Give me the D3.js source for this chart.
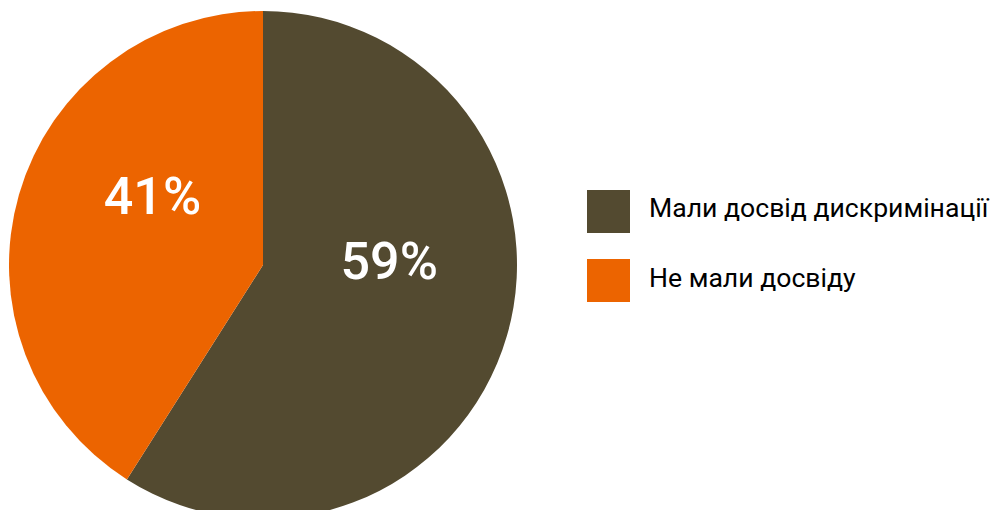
<!DOCTYPE html>
<html>
<head>
<meta charset="utf-8">
<script src="https://cdn.jsdelivr.net/npm/d3@7"></script>
<style>
  html, body { margin: 0; padding: 0; background: #fff; }
  svg { display: block; }
</style>
</head>
<body>
<svg id="chart" width="995" height="510"></svg>
<script>
// Survey shares
const categories = ["Мали досвід дискримінації", "Не мали досвіду"];
const values = [59, 41];
const colors = ["#534a30", "#ec6400"];

const W = 995, H = 510;
const cx = 263, cy = 265, R = 254;

const svg = d3.select("#chart");
const g = svg.append("g").attr("transform", `translate(${cx},${cy})`);

const pie = d3.pie().sort(null).value(d => d);
const arcs = pie(values);
const arc = d3.arc().innerRadius(0).outerRadius(R);

g.selectAll("path.slice")
  .data(arcs)
  .join("path")
  .attr("class", "slice")
  .attr("d", arc)
  .attr("fill", (d, i) => colors[i]);

// Percent labels sit about halfway out, nudged toward the wider part of each slice
const labelNudge = [-0.31, 0.28]; // radians
const labelR = R * 0.505;
g.selectAll("text.pct")
  .data(arcs)
  .join("text")
  .attr("class", "pct")
  .attr("x", (d, i) => {
    const a = (d.startAngle + d.endAngle) / 2 + labelNudge[i];
    return Math.sin(a) * labelR;
  })
  .attr("y", (d, i) => {
    const a = (d.startAngle + d.endAngle) / 2 + labelNudge[i];
    return -Math.cos(a) * labelR;
  })
  .attr("text-anchor", "middle")
  .attr("dx", -2)
  .attr("dy", "0.33em")
  .attr("fill", "#fff")
  .attr("font-family", "Roboto, sans-serif")
  .attr("font-weight", 500)
  .attr("font-size", 52)
  .text(d => d.data + "%");

// Legend
const legend = svg.append("g").attr("transform", "translate(587,190)");
const rows = legend.selectAll("g.row")
  .data(categories)
  .join("g")
  .attr("class", "row")
  .attr("transform", (d, i) => `translate(0,${i * 69})`);

rows.append("rect")
  .attr("width", 43)
  .attr("height", 43)
  .attr("fill", (d, i) => colors[i]);

rows.append("text")
  .attr("x", 62)
  .attr("y", (d, i) => 26.7 + i * 1.6)
  .attr("fill", "#000")
  .attr("font-family", "Roboto, sans-serif")
  .attr("font-size", 26.6)
  .text(d => d);
</script>
</body>
</html>
